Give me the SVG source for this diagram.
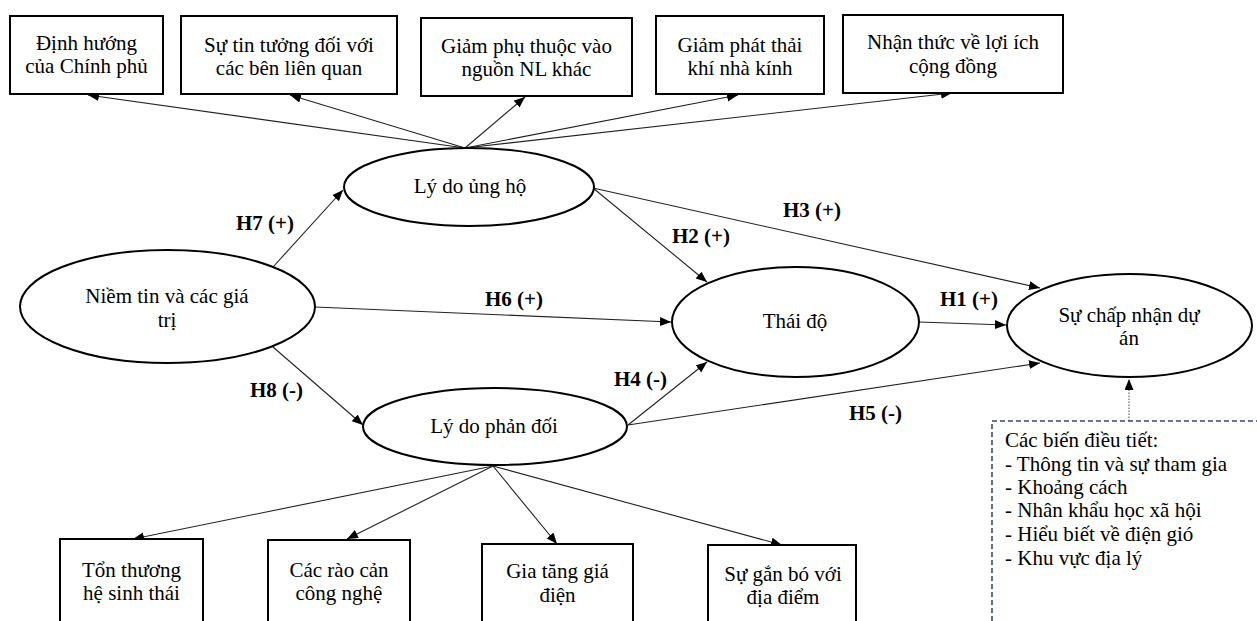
<svg xmlns="http://www.w3.org/2000/svg" width="1257" height="621" viewBox="0 0 1257 621">
<defs>
<marker id="arr" markerUnits="userSpaceOnUse" markerWidth="12" markerHeight="10" refX="11" refY="4.5" orient="auto">
<path d="M0,0 L11,4.5 L0,9 z" fill="#000"/>
</marker>
<style>
.box{fill:#fff;stroke:#000;stroke-width:2}
.ell{fill:#fff;stroke:#000;stroke-width:2}
.t{font-family:"Liberation Serif","Times New Roman",serif;font-size:21px;fill:#000;text-anchor:middle}
.tl{font-family:"Liberation Serif","Times New Roman",serif;font-size:21px;fill:#000}
.lb{font-family:"Liberation Serif","Times New Roman",serif;font-size:21px;font-weight:bold;fill:#000}
.c{fill:none;stroke:#222;stroke-width:1.1;marker-end:url(#arr)}
.dot{fill:none;stroke:#666;stroke-width:1.2;stroke-dasharray:1.5 1.5;marker-end:url(#arr)}
.dash{fill:#fff;stroke:#3B4A66;stroke-width:1.6;stroke-dasharray:5 3}
</style>
</defs>
<rect width="1257" height="621" fill="#fff"/>

<g id="connectors">
<line class="c" x1="465" y1="148" x2="88" y2="95"/>
<line class="c" x1="465" y1="148" x2="290" y2="95"/>
<line class="c" x1="465" y1="148" x2="525" y2="97"/>
<line class="c" x1="465" y1="148" x2="738" y2="95"/>
<line class="c" x1="465" y1="148" x2="952" y2="93"/>
<line class="c" x1="273" y1="267" x2="343" y2="190"/>
<line class="c" x1="273" y1="347" x2="363" y2="425"/>
<line class="c" x1="315" y1="307" x2="671" y2="322"/>
<line class="c" x1="593" y1="188" x2="707" y2="282"/>
<line class="c" x1="593" y1="188" x2="1040" y2="288"/>
<line class="c" x1="919" y1="322" x2="1006" y2="325"/>
<line class="c" x1="628" y1="425" x2="707" y2="362"/>
<line class="c" x1="628" y1="425" x2="1040" y2="363"/>
<line class="c" x1="493" y1="466" x2="133" y2="539"/>
<line class="c" x1="493" y1="466" x2="347" y2="539"/>
<line class="c" x1="493" y1="466" x2="557" y2="544"/>
<line class="c" x1="493" y1="466" x2="782" y2="545"/>
<line class="dot" x1="1129" y1="421" x2="1129" y2="379"/>
</g>

<g id="labels">
<text class="lb" x="236" y="230">H7 (+)</text>
<text class="lb" x="250" y="397">H8 (-)</text>
<text class="lb" x="485" y="306">H6 (+)</text>
<text class="lb" x="672" y="243">H2 (+)</text>
<text class="lb" x="783" y="217">H3 (+)</text>
<text class="lb" x="940" y="306">H1 (+)</text>
<text class="lb" x="614" y="386">H4 (-)</text>
<text class="lb" x="849" y="420">H5 (-)</text>
</g>

<g id="box-dinh-huong">
<rect class="box" x="10" y="16" width="153" height="78"/>
<text class="t" x="86.5" y="50">Định hướng</text>
<text class="t" x="86.5" y="73">của Chính phủ</text>
</g>
<g id="box-su-tin-tuong">
<rect class="box" x="181" y="16" width="216" height="78"/>
<text class="t" x="289" y="52">Sự tin tưởng đối với</text>
<text class="t" x="289" y="75">các bên liên quan</text>
</g>
<g id="box-giam-phu-thuoc">
<rect class="box" x="421" y="18" width="211" height="78"/>
<text class="t" x="526.5" y="53">Giảm phụ thuộc vào</text>
<text class="t" x="526.5" y="76">nguồn NL khác</text>
</g>
<g id="box-giam-phat-thai">
<rect class="box" x="656" y="16" width="168" height="78"/>
<text class="t" x="740" y="52">Giảm phát thải</text>
<text class="t" x="740" y="75">khí nhà kính</text>
</g>
<g id="box-nhan-thuc">
<rect class="box" x="843" y="15" width="220" height="78"/>
<text class="t" x="953" y="49">Nhận thức về lợi ích</text>
<text class="t" x="953" y="73">cộng đồng</text>
</g>

<g id="ell-ly-do-ung-ho">
<ellipse class="ell" cx="469" cy="187" rx="125" ry="39"/>
<text class="t" x="470" y="193">Lý do ủng hộ</text>
</g>
<g id="ell-niem-tin">
<ellipse class="ell" cx="167.5" cy="306.5" rx="147.5" ry="56.5"/>
<text class="t" x="167" y="303">Niềm tin và các giá</text>
<text class="t" x="167" y="327">trị</text>
</g>
<g id="ell-thai-do">
<ellipse class="ell" cx="795.5" cy="322" rx="123.5" ry="55"/>
<text class="t" x="795" y="328">Thái độ</text>
</g>
<g id="ell-su-chap-nhan">
<ellipse class="ell" cx="1129.5" cy="325.5" rx="122.5" ry="51.5"/>
<text class="t" x="1129" y="322">Sự chấp nhận dự</text>
<text class="t" x="1129" y="345">án</text>
</g>
<g id="ell-ly-do-phan-doi">
<ellipse class="ell" cx="495" cy="426.5" rx="132" ry="38.5"/>
<text class="t" x="494" y="433">Lý do phản đối</text>
</g>

<g id="box-ton-thuong">
<rect class="box" x="60" y="539" width="143" height="90"/>
<text class="t" x="131.5" y="577">Tổn thương</text>
<text class="t" x="131.5" y="600">hệ sinh thái</text>
</g>
<g id="box-rao-can">
<rect class="box" x="268" y="540" width="142" height="90"/>
<text class="t" x="339" y="577">Các rào cản</text>
<text class="t" x="339" y="600">công nghệ</text>
</g>
<g id="box-gia-tang">
<rect class="box" x="482" y="544" width="151" height="90"/>
<text class="t" x="557.5" y="578">Gia tăng giá</text>
<text class="t" x="557.5" y="602">điện</text>
</g>
<g id="box-gan-bo">
<rect class="box" x="708" y="545" width="148" height="90"/>
<text class="t" x="783" y="581">Sự gắn bó với</text>
<text class="t" x="783" y="604">địa điểm</text>
</g>

<g id="box-bien-dieu-tiet">
<rect class="dash" x="992" y="421" width="280" height="220"/>
<text class="tl" x="1005" y="447">Các biến điều tiết:</text>
<text class="tl" x="1005" y="471">- Thông tin và sự tham gia</text>
<text class="tl" x="1005" y="494">- Khoảng cách</text>
<text class="tl" x="1005" y="517">- Nhân khẩu học xã hội</text>
<text class="tl" x="1005" y="541">- Hiểu biết về điện gió</text>
<text class="tl" x="1005" y="565">- Khu vực địa lý</text>
</g>
</svg>
